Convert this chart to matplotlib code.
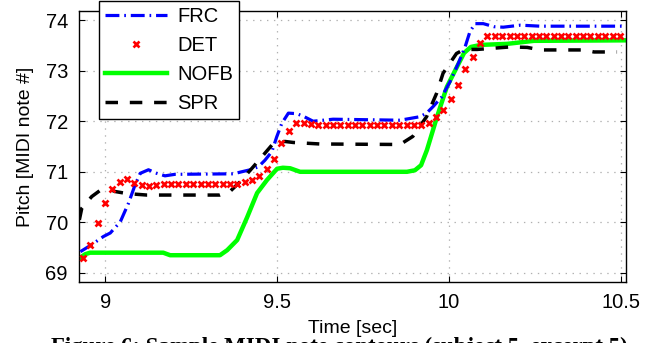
import numpy as np
import matplotlib
matplotlib.use("Agg")
import matplotlib.pyplot as plt

plt.rcParams["font.family"] = ["Liberation Sans", "DejaVu Sans"]
plt.rcParams["lines.scale_dashes"] = False

# FRC (blue dash-dot): breakpoints
frc_t = [8.928, 8.935, 8.961, 8.995, 9.015, 9.044, 9.068, 9.087, 9.102, 9.126,
         9.150, 9.174, 9.203, 9.373, 9.397, 9.422, 9.446, 9.465, 9.485, 9.499,
         9.514, 9.533, 9.557, 9.576, 9.605, 9.663, 9.858, 9.916, 9.935, 9.954,
         9.979, 10.003, 10.027, 10.047, 10.061, 10.076, 10.100, 10.131, 10.158,
         10.208, 10.265, 10.515]
frc_p = [69.42, 69.45, 69.56, 69.72, 69.79, 70.01, 70.38, 70.74, 70.97, 71.04,
         70.97, 70.92, 70.95, 70.96, 71.00, 71.04, 71.10, 71.23, 71.40, 71.69,
         71.96, 72.16, 72.15, 72.10, 72.00, 72.04, 72.02, 72.09, 72.16, 72.29,
         72.48, 72.78, 73.14, 73.47, 73.77, 73.93, 73.93, 73.87, 73.86,
         73.90, 73.88, 73.88]

# DET (red x markers), one value per analysis frame
det_t0, det_dt = 8.935, 0.0214
det_p = [69.29, 69.55, 69.98, 70.38, 70.65, 70.80, 70.85, 70.77, 70.74, 70.71,
         70.74,
         70.75, 70.75, 70.75, 70.75, 70.75, 70.75, 70.75, 70.75, 70.75, 70.75,
         70.75,
         70.80, 70.84, 70.92, 71.06, 71.26, 71.56, 71.80, 71.96,
         71.96, 71.95, 71.93, 71.93, 71.93, 71.93, 71.93, 71.93, 71.93, 71.93,
         71.93, 71.93, 71.93, 71.93, 71.93, 71.93,
         71.92, 71.97, 72.08, 72.22, 72.43, 72.72, 73.03, 73.27, 73.55, 73.68,
         73.68, 73.68, 73.68, 73.68, 73.68, 73.68, 73.68, 73.68, 73.68, 73.68,
         73.68, 73.68, 73.68, 73.68, 73.68, 73.68, 73.68, 73.68]

# NOFB (green solid)
nofb_t = [8.927, 8.942, 8.956, 9.169, 9.189, 9.334, 9.355, 9.384, 9.413, 9.442,
          9.471, 9.500, 9.517, 9.538, 9.567, 9.878, 9.901, 9.919, 9.936, 9.965,
          9.994, 10.023, 10.044, 10.064, 10.093, 10.169, 10.247, 10.515]
nofb_p = [69.30, 69.37, 69.40, 69.40, 69.35, 69.35, 69.45, 69.65, 70.10, 70.58,
          70.84, 71.06, 71.08, 71.07, 71.00, 71.00, 71.03, 71.13, 71.43, 72.08,
          72.68, 73.07, 73.35, 73.47, 73.51, 73.53, 73.59, 73.60]

# SPR (black dashed)
spr_t = [8.925, 8.932, 8.961, 8.985, 9.010, 9.029, 9.063, 9.121, 9.334, 9.363,
         9.392, 9.431, 9.460, 9.489, 9.523, 9.547, 9.625, 9.858, 9.895, 9.935,
         9.964, 9.983, 10.022, 10.044, 10.082, 10.179, 10.228, 10.267, 10.392,
         10.422, 10.489]
spr_p = [70.05, 70.28, 70.51, 70.63, 70.66, 70.61, 70.57, 70.54, 70.54, 70.61,
         70.80, 71.10, 71.33, 71.56, 71.60, 71.58, 71.55, 71.54, 71.70, 72.09,
         72.55, 72.95, 73.34, 73.42, 73.42, 73.47, 73.46, 73.41, 73.41,
         73.37, 73.37]

det_t = det_t0 + det_dt * np.arange(len(det_p))

fig = plt.figure(figsize=(6.68, 3.43), dpi=100)
ax = fig.add_axes([0.1183, 0.1778, 0.8188, 0.7901])

ax.plot(frc_t, frc_p, color="blue", lw=2.3, dashes=(10, 3.5, 1.2, 3.5),
        label="FRC", zorder=3)
ax.plot(det_t, det_p, ls="none", marker="x", ms=3.8, mew=1.9, color="red",
        label="DET", zorder=4)
ax.plot(nofb_t, nofb_p, color="#00ff00", lw=3.2, label="NOFB", zorder=2)
ax.plot(spr_t, spr_p, color="black", lw=2.5, dashes=(9, 8.5),
        label="SPR", zorder=3)

ax.set_xlim(8.924, 10.515)
ax.set_ylim(68.82, 74.18)
ax.set_xticks([9, 9.5, 10, 10.5])
ax.set_xticklabels(["9", "9.5", "10", "10.5"])
ax.set_yticks([69, 70, 71, 72, 73, 74])
ax.grid(True, color="#b0b0b0", ls=(0, (1, 4)), lw=0.9)
ax.tick_params(direction="in", top=True, right=True, labelsize=14.5, length=4)
ax.tick_params(axis="x", pad=8)
ax.tick_params(axis="y", pad=8)
for s in ax.spines.values():
    s.set_linewidth(1.0)

ax.set_xlabel("Time [sec]", fontsize=14, labelpad=6)
ax.set_ylabel("Pitch [MIDI note #]", fontsize=14, labelpad=8)

leg = ax.legend(loc="upper left", bbox_to_anchor=(0.148, 0.997),
                bbox_transform=fig.transFigure, borderaxespad=0,
                fontsize=14.5, handlelength=3.1, handletextpad=0.5,
                labelspacing=0.5, numpoints=1, fancybox=False,
                framealpha=1, edgecolor="black", borderpad=0.3)
leg.get_frame().set_linewidth(1.0)
leg.set_zorder(10)

fig.text(0.508, -0.012, "Figure 6: Sample MIDI note contours (subject 5, excerpt 5)",
         family=["Liberation Serif", "DejaVu Serif"], fontweight="bold",
         fontsize=16.5, ha="center", va="center")

fig.savefig("out.png", dpi=100)
